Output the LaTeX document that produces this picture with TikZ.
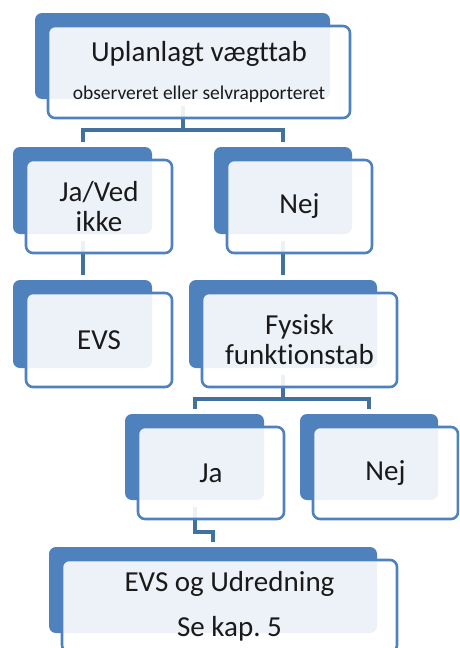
\documentclass[tikz,border=0pt]{standalone}
\usepackage{fontspec}
\setmainfont{Carlito}[Ligatures=NoCommon]
\usepackage{xcolor}
\usepackage{tikz}
\usetikzlibrary{calc,backgrounds}
\frenchspacing
\definecolor{boxblue}{HTML}{4F81BD}
\definecolor{conn}{HTML}{41719C}
\definecolor{text}{HTML}{1A1A1A}
\tikzset{
  card/.style={draw=boxblue, line width=2.6pt, rounded corners=7pt, fill=white, fill opacity=0.9,
    text opacity=1, text=text, anchor=north west, outer sep=0pt, inner sep=2pt, align=center,
    font=\fontsize{29}{30}\selectfont},
  back/.style={fill=boxblue, rounded corners=7pt},
  link/.style={draw=conn, line width=4pt},
}
\begin{document}
\begin{tikzpicture}[x=1pt,y=-1pt]
  \useasboundingbox (0,0) rectangle (459,648);
  \clip (0,0) rectangle (459,648);
  % front boxes
  \node[card, minimum width=302, minimum height=92] (top) at (48,26)
    {Uplanlagt vægttab\\[8pt]{\fontsize{19.5}{22}\selectfont observeret eller selvrapporteret}};
  \node[card, minimum width=146, minimum height=93] (javed) at (26,160) {Ja/Ved\\ikke};
  \node[card, minimum width=145, minimum height=93] (nej) at (227,160) {Nej};
  \node[card, minimum width=146, minimum height=94] (evs) at (26,293) {EVS};
  \node[card, minimum width=195, minimum height=94] (fys) at (202,293) {Fysisk\\funktionstab};
  \node[card, minimum width=146, minimum height=92] (ja) at (138,427) {Ja};
  \node[card, minimum width=145, minimum height=92] (nej2) at (313,427) {Nej};
  \node[card, minimum width=335, minimum height=92] (udr) at (62,560)
    {EVS og Udredning\\[15pt]Se kap. 5};
  % back plates and connectors
  \begin{scope}[on background layer]
    \foreach \n in {top,javed,nej,evs,fys,ja,nej2,udr}
      \fill[back] ($(\n.north west)+(-13,-13)$) rectangle ($(\n.south east)+(-20,-19)$);
    \draw[link] ($(top.south)+(-16.5,-12)$) -- ++(0,24) -| ($(javed.north)+(-16.5,-18)$);
    \draw[link] ($(top.south)+(-16.5,-12)$) -- ++(0,24) -| ($(nej.north)+(-16.5,-18)$);
    \draw[link] ($(javed.south)+(-16.5,-12)$) -- ($(evs.north)+(-16.5,-18)$);
    \draw[link] ($(nej.south)+(-16.5,-12)$) -- ($(fys.north)+(-16.5,-18)$);
    \draw[link] ($(fys.south)+(-16.5,-12)$) -- ++(0,24) -| ($(ja.north)+(-16.5,-18)$);
    \draw[link] ($(fys.south)+(-16.5,-12)$) -- ++(0,24) -| ($(nej2.north)+(-16.5,-18)$);
    \draw[link] ($(ja.south)+(-16.5,-12)$) -- ++(0,25) -| ($(udr.north)+(-16.5,-18)$);
  \end{scope}
\end{tikzpicture}
\end{document}
